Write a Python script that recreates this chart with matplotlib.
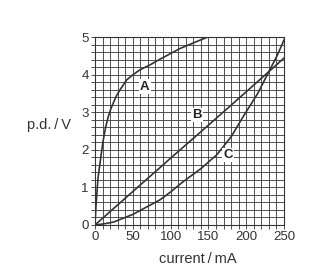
import matplotlib.pyplot as plt
from matplotlib.ticker import MultipleLocator

plt.rcParams['font.family'] = ['Liberation Sans', 'DejaVu Sans']

# values (current in mA, p.d. in V)
a_current = [0, 1, 2.2, 4, 6.6, 9, 11, 14, 17.6, 21, 24, 28, 33, 42, 50, 59, 73, 86, 100, 112, 125, 137, 148]
a_pd = [0, 0.4, 0.76, 1.25, 1.64, 2.0, 2.27, 2.6, 2.89, 3.1, 3.24, 3.43, 3.6, 3.87, 4.0, 4.13, 4.27, 4.42, 4.57, 4.7, 4.81, 4.91, 5.0]

b_current = [0, 50, 100, 150, 200, 250]
b_pd = [0, 0.89, 1.78, 2.66, 3.55, 4.45]

c_current = [0, 12, 25, 37.5, 50, 73, 86, 100, 117, 140, 161, 180, 196, 215, 231, 241, 251]
c_pd = [0, 0.03, 0.08, 0.18, 0.28, 0.53, 0.67, 0.88, 1.16, 1.5, 1.87, 2.35, 2.89, 3.5, 4.13, 4.52, 4.98]

labels = ['A', 'B', 'C']
label_x = [66, 134.5, 176]
label_y = [3.69, 2.93, 1.87]

fig = plt.figure(figsize=(3.13, 2.73), dpi=100)
ax = fig.add_axes([0.3035, 0.176, 0.604, 0.687])

ax.plot(a_current, a_pd, color='#333333', lw=1.2)
ax.plot(b_current, b_pd, color='#333333', lw=1.2)
ax.plot(c_current, c_pd, color='#333333', lw=1.2)

for t, x, y in zip(labels, label_x, label_y):
    ax.text(x, y, t, fontsize=9.5, fontweight='bold', ha='center', va='center',
            color='#222222', bbox=dict(facecolor='white', edgecolor='none', pad=0.8))

ax.set_xlim(0, 250)
ax.set_ylim(0, 5)
ax.xaxis.set_major_locator(MultipleLocator(50))
ax.xaxis.set_minor_locator(MultipleLocator(10))
ax.yaxis.set_major_locator(MultipleLocator(1))
ax.yaxis.set_minor_locator(MultipleLocator(0.2))
ax.grid(True, which='both', color='#444444', lw=0.65)
ax.tick_params(which='both', length=3, width=0.65, color='#444444', labelsize=9.5,
               labelcolor='#333333', pad=1.5)
for s in ax.spines.values():
    s.set_color('#333333')
    s.set_linewidth(0.8)

fig.text(198 / 313, 1 - 259 / 273, 'current\u2009/\u2009mA', fontsize=10.5, color='#333333',
         ha='center', va='center')
fig.text(49 / 313, 1 - 125 / 273, 'p.d.\u2009/\u2009V', fontsize=10.5, color='#333333',
         ha='center', va='center')

fig.savefig('out.png', dpi=100)
